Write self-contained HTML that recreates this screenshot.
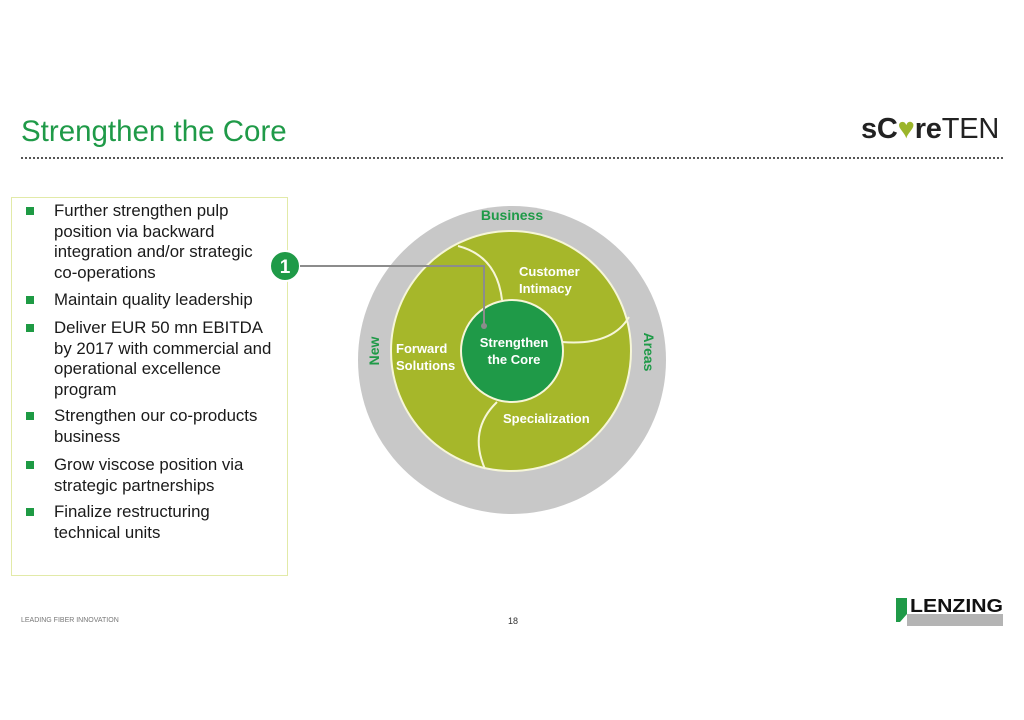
<!DOCTYPE html>
<html><head><meta charset="utf-8"><style>
body{margin:0;width:1024px;height:720px;background:#fff;position:relative;overflow:hidden;font-family:"Liberation Sans",Arial,sans-serif}
.a{position:absolute;white-space:nowrap}
.t{font-size:16.8px;color:#1a1a1a;line-height:20.6px}
.b{position:absolute;left:26px;width:8px;height:8px;background:#1e9a44}
</style></head><body>
<div class="a" style="left:21px;top:115px;font-size:29.5px;color:#1f9a48">Strengthen the Core</div>
<div class="a" style="left:21px;top:157px;width:982px;border-top:2px dotted #555"></div>
<div class="a" style="left:861px;top:113px;font-size:29px;font-weight:bold;color:#222;letter-spacing:-0.2px">sC<span style="color:#9bb52a">♥</span>re<span style="font-weight:normal">TEN</span></div>

<div class="a" style="left:11px;top:197px;width:275px;height:377px;border:1px solid #e2eaa8"></div>
<div class="b" style="top:207px"></div>
<div class="a t" style="left:54px;top:201px">Further strengthen pulp<br>position via backward<br>integration and/or strategic<br>co-operations</div>
<div class="b" style="top:296px"></div>
<div class="a t" style="left:54px;top:290px">Maintain quality leadership</div>
<div class="b" style="top:324px"></div>
<div class="a t" style="left:54px;top:318px">Deliver EUR 50 mn EBITDA<br>by 2017 with commercial and<br>operational excellence<br>program</div>
<div class="b" style="top:412px"></div>
<div class="a t" style="left:54px;top:406px">Strengthen our co-products<br>business</div>
<div class="b" style="top:461px"></div>
<div class="a t" style="left:54px;top:455px">Grow viscose position via<br>strategic partnerships</div>
<div class="b" style="top:508px"></div>
<div class="a t" style="left:54px;top:502px">Finalize restructuring<br>technical units</div>

<svg class="a" style="left:0;top:0" width="1024" height="720">
<circle cx="512" cy="360" r="154" fill="#c8c8c8"/>
<circle cx="511" cy="351" r="120" fill="#a6b72a" stroke="#f6f6d8" stroke-width="2"/>
<g fill="none" stroke="#f6f6d8" stroke-width="2">
<path d="M458,246 Q497,256 502,300"/>
<path d="M629,317 Q612,346 562,342"/>
<path d="M497,402 Q468,430 485,469"/>
</g>
<circle cx="512" cy="351" r="51" fill="#1f9a48" stroke="#f6f6d8" stroke-width="2"/>
<circle cx="285" cy="266" r="15" fill="#1f9a48" stroke="#fff" stroke-width="2"/>
<text x="285" y="273" fill="#fff" font-size="19" font-weight="bold" text-anchor="middle" font-family="Liberation Sans">1</text>
<polyline points="300,266 484,266 484,326" fill="none" stroke="#8c8c8c" stroke-width="2"/>
<circle cx="484" cy="326" r="3" fill="#8c8c8c"/>
<g font-family="Liberation Sans" font-weight="bold" fill="#1f9a48" font-size="14" text-anchor="middle">
<text x="512" y="220">Business</text>
<text transform="translate(379,351) rotate(-90)">New</text>
<text transform="translate(644,352) rotate(90)">Areas</text>
</g>
<g font-family="Liberation Sans" font-weight="bold" fill="#fff" font-size="13">
<text x="519" y="276">Customer</text><text x="519" y="293">Intimacy</text>
<text x="396" y="353">Forward</text><text x="396" y="370">Solutions</text>
<text x="514" y="347" text-anchor="middle">Strengthen</text><text x="514" y="364" text-anchor="middle">the Core</text>
<text x="503" y="423">Specialization</text>
</g>
<polygon points="896,598 907,598 907,614 900,622 896,622" fill="#1f9a48"/>
<rect x="907" y="614" width="96" height="12" fill="#b4b4b4"/>
<text x="910" y="612" font-family="Liberation Sans" font-weight="bold" font-size="18" fill="#111" textLength="93" lengthAdjust="spacingAndGlyphs">LENZING</text>
</svg>
<div class="a" style="left:21px;top:617px;font-size:7px;color:#777">LEADING FIBER INNOVATION</div>
<div class="a" style="left:508px;top:616px;font-size:9px;color:#333">18</div>
</body></html>
